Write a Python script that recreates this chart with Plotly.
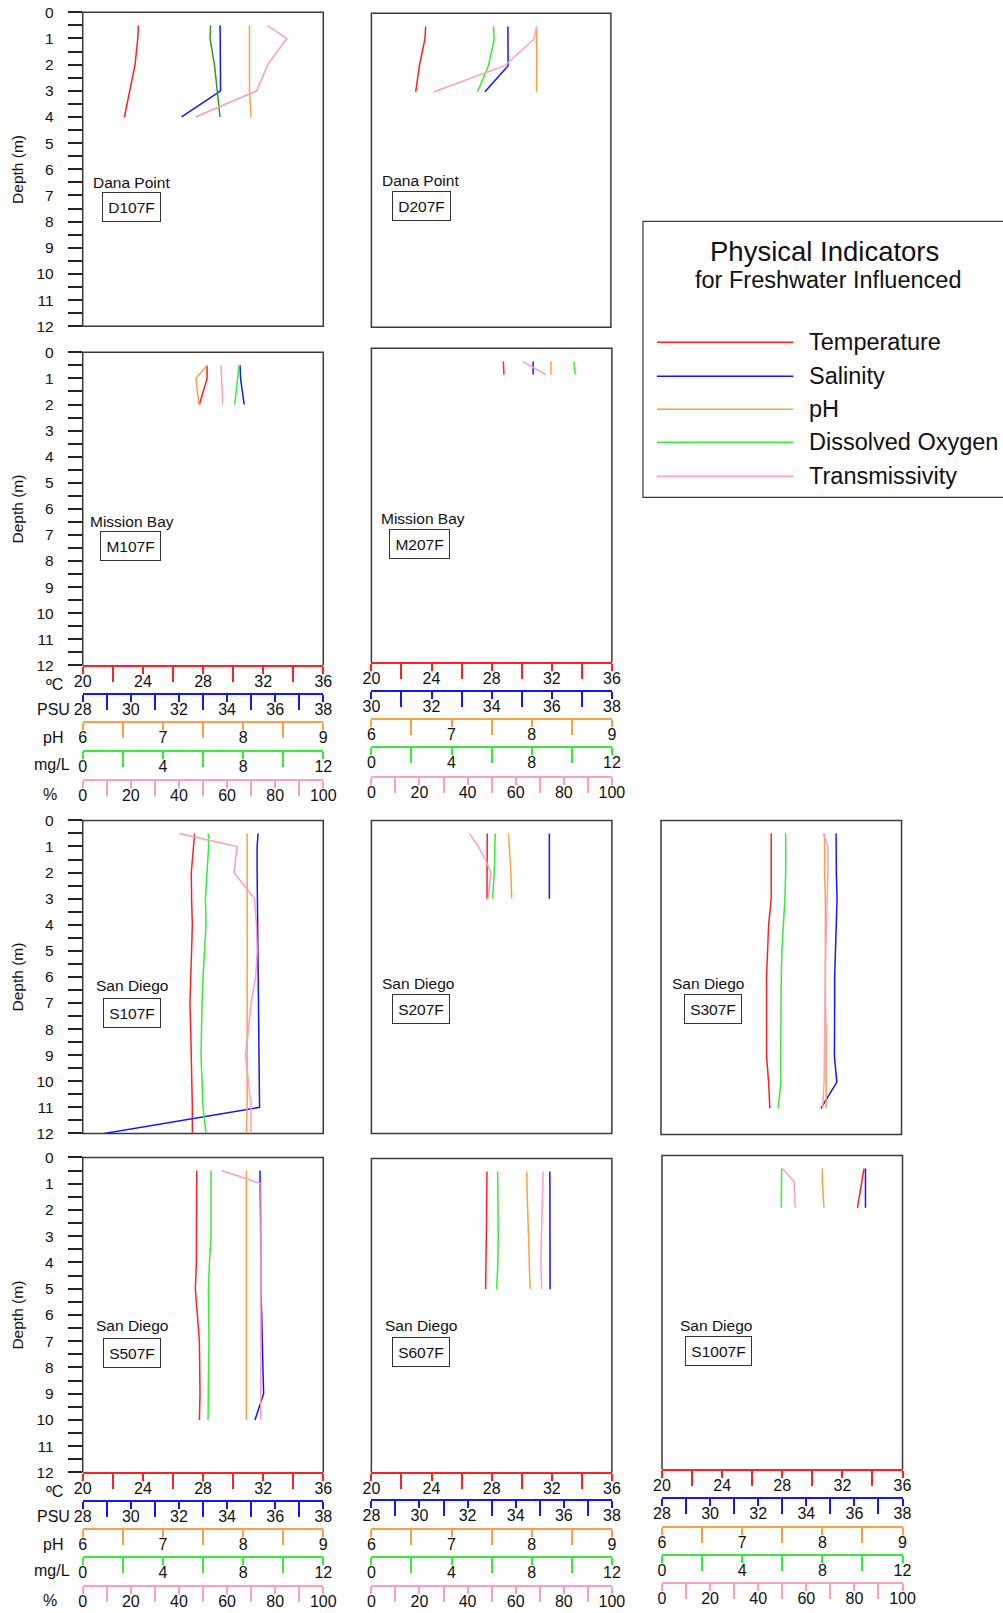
import plotly.graph_objects as go

# ---------------- DATA ----------------
STATIONS = ["D107F", "D207F", "M107F", "M207F", "S107F", "S207F", "S307F", "S507F", "S607F", "S1007F"]
SITES = ["Dana Point", "Dana Point", "Mission Bay", "Mission Bay", "San Diego", "San Diego",
         "San Diego", "San Diego", "San Diego", "San Diego"]

D107F_depth = [0.5, 1, 2, 3, 4]
D107F_temp = [23.70, 23.66, 23.48, 23.12, 22.77]
D107F_sal = [33.71, 33.72, 33.73, 33.73, 32.11]
D107F_ph = [8.08, 8.08, 8.08, 8.08, 8.10]
D107F_do = [6.38, 6.35, 6.57, 6.72, 6.85]
D107F_tr = [76.7, 84.8, 76.9, 72.3, 46.8]

D207F_depth = [0.5, 1, 2, 3]
D207F_temp = [23.63, 23.57, 23.21, 22.96]
D207F_sal = [33.70, 33.70, 33.71, 32.74]
D207F_ph = [8.07, 8.07, 8.07, 8.07]
D207F_do = [6.12, 6.15, 5.87, 5.32]
D207F_tr = [69.1, 67.7, 55.7, 26.2]

M107F_depth = [0.5, 1, 2]
M107F_temp = [28.27, 28.27, 27.76]
M107F_sal = [34.54, 34.56, 34.71]
M107F_ph = [7.55, 7.41, 7.45]
M107F_do = [7.80, 7.73, 7.58]
M107F_tr = [57.5, 57.7, 58.2]

M207F_depth = [0.5, 1]
M207F_temp = [28.78, 28.82]
M207F_sal = [35.38, 35.38]
M207F_ph = [8.24, 8.24]
M207F_do = [10.10, 10.17]
M207F_tr = [62.8, 72.4]

S107F_depth = [0.5, 1, 2, 3, 4, 5, 6, 7, 8, 9, 10, 11, 12]
S107F_temp = [27.44, 27.38, 27.22, 27.24, 27.29, 27.24, 27.16, 27.13, 27.18, 27.22, 27.27, 27.29, 27.29]
S107F_sal = [35.29, 35.25, 35.25, 35.26, 35.29, 35.29, 35.28, 35.29, 35.31, 35.32, 35.33, 35.35, 28.90]
S107F_ph = [8.05, 8.05, 8.05, 8.05, 8.05, 8.05, 8.05, 8.05, 8.05, 8.05, 8.05, 8.05, 8.04]
S107F_do = [6.27, 6.28, 6.20, 6.12, 6.15, 6.07, 6.00, 5.95, 5.93, 5.90, 5.95, 6.00, 6.15]
S107F_tr = [40.1, 64.2, 62.9, 71.4, 72.2, 72.5, 71.9, 70.0, 68.9, 67.6, 68.9, 70.0, 69.9]

S207F_depth = [0.5, 1, 1.5, 2, 3]
S207F_temp = [27.71, 27.71, 27.70, 27.70, 27.69]
S207F_sal = [35.40, 35.40, 35.40, 35.40, 35.40]
S207F_ph = [7.71, 7.72, 7.73, 7.74, 7.75]
S207F_do = [6.18, 6.17, 6.15, 6.13, 6.05]
S207F_tr = [40.7, 44.4, 47.4, 49.7, 48.6]

S307F_depth = [0.5, 1, 2, 3, 4, 5, 6, 7, 8, 9, 10, 11]
S307F_temp = [27.33, 27.33, 27.33, 27.33, 27.16, 27.07, 27.02, 27.02, 27.02, 27.02, 27.16, 27.24]
S307F_sal = [35.28, 35.28, 35.29, 35.32, 35.29, 35.24, 35.22, 35.22, 35.22, 35.21, 35.31, 34.65]
S307F_ph = [8.04, 8.04, 8.04, 8.05, 8.05, 8.05, 8.05, 8.05, 8.06, 8.06, 8.06, 8.06]
S307F_do = [6.22, 6.22, 6.22, 6.18, 6.10, 6.03, 6.00, 5.98, 5.97, 5.97, 5.98, 5.85]
S307F_tr = [67.5, 69.4, 69.4, 69.0, 68.6, 68.5, 68.3, 68.2, 68.1, 67.9, 67.8, 67.2]

S507F_depth = [0.5, 1, 2, 3, 4, 5, 6, 7, 8, 9, 10]
S507F_temp = [27.58, 27.58, 27.58, 27.58, 27.56, 27.49, 27.64, 27.76, 27.78, 27.80, 27.76]
S507F_sal = [35.37, 35.38, 35.38, 35.40, 35.40, 35.40, 35.44, 35.48, 35.49, 35.52, 35.16]
S507F_ph = [8.04, 8.04, 8.04, 8.04, 8.04, 8.04, 8.04, 8.04, 8.04, 8.04, 8.04]
S507F_do = [6.40, 6.40, 6.40, 6.40, 6.32, 6.27, 6.28, 6.30, 6.28, 6.27, 6.25]
S507F_tr = [57.8, 74.1, 74.1, 74.1, 74.0, 73.8, 74.0, 74.1, 74.1, 74.1, 74.0]

S607F_depth = [0.5, 1, 2, 3, 4, 5]
S607F_temp = [27.69, 27.69, 27.67, 27.65, 27.62, 27.60]
S607F_sal = [35.42, 35.42, 35.42, 35.43, 35.43, 35.43]
S607F_ph = [7.94, 7.94, 7.95, 7.96, 7.97, 7.98]
S607F_do = [6.30, 6.31, 6.32, 6.33, 6.31, 6.25]
S607F_tr = [71.4, 71.2, 71.0, 70.7, 70.5, 70.8]

S1007F_depth = [0.5, 1, 2]
S1007F_temp = [33.44, 33.29, 33.00]
S1007F_sal = [36.46, 36.46, 36.46]
S1007F_ph = [8.00, 8.00, 8.02]
S1007F_do = [5.97, 5.96, 5.95]
S1007F_tr = [50.0, 54.9, 55.4]

SERIES = ["Temperature", "Salinity", "pH", "Dissolved Oxygen", "Transmissivity"]
UNITS = ["ºC", "PSU", "pH", "mg/L", "%"]
DEPTH_TICKS = list(range(0, 13))

TEMP_RANGE = [20, 36]; TEMP_MAJOR = [20, 24, 28, 32, 36]; TEMP_MINOR = [22, 26, 30, 34]
SAL_RANGE = [28, 38]; SAL_MAJOR = [28, 30, 32, 34, 36, 38]; SAL_MINOR = [29, 31, 33, 35, 37]
SAL_RANGE_B = [30, 38]; SAL_MAJOR_B = [30, 32, 34, 36, 38]; SAL_MINOR_B = [31, 33, 35, 37]
PH_RANGE = [6, 9]; PH_MAJOR = [6, 7, 8, 9]; PH_MINOR = [6.5, 7.5, 8.5]
DO_RANGE = [0, 12]; DO_MAJOR = [0, 4, 8, 12]; DO_MINOR = [2, 6, 10]
TR_RANGE = [0, 100]; TR_MAJOR = [0, 20, 40, 60, 80, 100]; TR_MINOR = [10, 30, 50, 70, 90]

G = globals()
DATA = {s: dict(depth=G[s + "_depth"], vals=[G[s + "_temp"], G[s + "_sal"], G[s + "_ph"],
                                             G[s + "_do"], G[s + "_tr"]]) for s in STATIONS}

# ---------------- STYLE / LAYOUT ----------------
W, H = 1003, 1613
# measured mapping of paper fractions to picture pixels in this viewer
RX0, RW, RY0, RH = 9.4, 978.9, 8.7, 1595.8
FONT = "Arial, Liberation Sans, sans-serif"
COLORS = ["#ff2020", "#1515ff", "#ffa040", "#33ee33", "#ff9cc8"]
DARK_GREEN = "#2a9a2a"
FRAME = "#3a3a3a"


def fx(px):
    return (px - RX0) / RW


def fy(py):
    return 1 - (py - RY0) / RH


# station, x0, x1, top, bottom, depth axis?, scale lines (y px) or None, alt salinity, label xy, box xy, box w
PANELS = [
    ("D107F", 83, 323, 12, 326, True, None, False, (132, 182), (131.5, 206.5), 59),
    ("D207F", 371, 610, 13, 327, False, None, False, (420, 180), (421.5, 205.5), 59),
    ("M107F", 83, 323, 352, 665, True, [665, 694, 722, 751, 780], False, (132, 521), (130.5, 546), 61),
    ("M207F", 371, 611, 348, 662, False, [662, 691, 719, 747, 777], True, (423, 518), (419.5, 543.5), 61),
    ("S107F", 83, 323, 820, 1133, True, None, False, (132, 985), (132, 1012.5), 58),
    ("S207F", 371, 611, 820, 1133, False, None, False, (418, 983), (421, 1008.5), 58),
    ("S307F", 660, 900, 820, 1134, False, None, False, (707, 983), (711.5, 1008.5), 58),
    ("S507F", 83, 323, 1157, 1472, True, [1472, 1501, 1529, 1557, 1586], False, (132, 1325), (132, 1352.5), 58),
    ("S607F", 371, 611, 1158, 1472, False, [1472, 1500, 1529, 1557, 1586], False, (421, 1325), (421, 1352), 58),
    ("S1007F", 661, 901, 1155, 1469, False, [1469, 1498, 1527, 1555, 1583], False, (715, 1325), (717.5, 1350.5), 67),
]
UNIT_X = [55, 54, 53, 52, 50]
UNIT_DY = [19, 15, 15, 13, 14]


def ann(text, x, y, size, **kw):
    d = dict(text=text, x=fx(x), y=fy(y), xref="paper", yref="paper", showarrow=False,
             xanchor="center", yanchor="middle", font=dict(family=FONT, size=size, color="#111"))
    d.update(kw)
    return d


fig = go.Figure()
layout = {}
shapes = []
annotations = []

for i, (st, x0, x1, top, bot, depth_axis, scale_y, alt_sal, lab, box, bw) in enumerate(PANELS):
    yid = i + 1
    ykey = "yaxis" if yid == 1 else f"yaxis{yid}"
    yref = "y" if yid == 1 else f"y{yid}"
    ydom = [fy(bot), fy(top)]
    yax = dict(domain=ydom, range=[12, 0], fixedrange=True, showgrid=False, zeroline=False,
               showline=False, anchor=f"x{i*5+1}" if i > 0 else "x")
    if depth_axis:
        yax.update(tickmode="array", tickvals=DEPTH_TICKS, ticks="outside", ticklen=14,
                   tickwidth=1.5, tickcolor="#222", ticklabelstandoff=11,
                   tickfont=dict(family=FONT, size=15.5, color="#111"),
                   minor=dict(tickvals=[d + 0.5 for d in DEPTH_TICKS[:-1]], ticks="outside",
                              ticklen=14, tickwidth=1.5, tickcolor="#222"))
        annotations.append(ann("Depth (m)", 18, (top + bot) / 2, 15.5, textangle=-90))
    else:
        yax.update(showticklabels=False, ticks="")
    layout[ykey] = yax

    specs = [
        (TEMP_RANGE, TEMP_MAJOR, TEMP_MINOR),
        (SAL_RANGE_B, SAL_MAJOR_B, SAL_MINOR_B) if alt_sal else (SAL_RANGE, SAL_MAJOR, SAL_MINOR),
        (PH_RANGE, PH_MAJOR, PH_MINOR),
        (DO_RANGE, DO_MAJOR, DO_MINOR),
        (TR_RANGE, TR_MAJOR, TR_MINOR),
    ]
    base = i * 5 + 1
    base_ref = "x" if base == 1 else f"x{base}"
    d = DATA[st]
    for k in range(5):
        n = base + k
        xkey = "xaxis" if n == 1 else f"xaxis{n}"
        xref = "x" if n == 1 else f"x{n}"
        rng, major, minor = specs[k]
        ax = dict(domain=[fx(x0), fx(x1)], range=rng, fixedrange=True, showgrid=False, zeroline=False)
        if k > 0:
            ax["overlaying"] = base_ref
        if scale_y is not None:
            ax.update(visible=True, showline=True, linecolor=COLORS[k], linewidth=1.5,
                      tickmode="array", tickvals=major, ticks="outside", ticklen=7,
                      tickwidth=1.5, tickcolor=COLORS[k], ticklabelstandoff=-6,
                      tickfont=dict(family=FONT, size=16, color="#111"),
                      minor=dict(tickvals=minor, ticks="outside", ticklen=15, tickwidth=1.5,
                                 tickcolor=COLORS[k]))
            if k == 0:
                ax["anchor"] = yref
            else:
                ax["anchor"] = "free"
                ax["position"] = fy(scale_y[k])
            if depth_axis:
                annotations.append(ann(UNITS[k], UNIT_X[k], scale_y[k] + UNIT_DY[k], 16))
        else:
            ax.update(visible=False, anchor=yref)
        layout[xkey] = ax

        color = DARK_GREEN if (st == "D107F" and k == 3) else COLORS[k]
        fig.add_trace(go.Scatter(x=d["vals"][k], y=d["depth"], mode="lines",
                                 line=dict(color=color, width=1.5),
                                 xaxis=xref, yaxis=yref, showlegend=False,
                                 name=SERIES[k], hoverinfo="skip"))

    if scale_y is None:
        shapes.append(dict(type="rect", xref="paper", yref="paper", x0=fx(x0), x1=fx(x1),
                           y0=fy(bot), y1=fy(top), line=dict(color=FRAME, width=1.5),
                           fillcolor="rgba(0,0,0,0)", layer="below"))
    else:
        path = (f"M {fx(x0)} {fy(bot)} L {fx(x0)} {fy(top)} L {fx(x1)} {fy(top)} "
                f"L {fx(x1)} {fy(bot)}")
        shapes.append(dict(type="path", xref="paper", yref="paper", path=path,
                           line=dict(color=FRAME, width=1.5), layer="below"))
    annotations.append(ann(SITES[STATIONS.index(st)], lab[0], lab[1], 15.5))
    annotations.append(ann(st, box[0], box[1], 15.5, width=bw - 4, height=26, borderpad=1,
                           bordercolor="#333", borderwidth=1))

# legend box (drawn by hand)
shapes.append(dict(type="rect", xref="paper", yref="paper", x0=fx(642), x1=fx(1002),
                   y0=fy(497), y1=fy(221), line=dict(color=FRAME, width=1.2),
                   fillcolor="rgba(0,0,0,0)"))
annotations.append(ann("Physical Indicators", 823, 251, 27.5))
annotations.append(ann("for Freshwater Influenced", 827, 280, 23.5))
LEG_Y = [342, 376, 409, 442, 476]
for k in range(5):
    shapes.append(dict(type="line", xref="paper", yref="paper", x0=fx(656), x1=fx(792),
                       y0=fy(LEG_Y[k]), y1=fy(LEG_Y[k]), line=dict(color=COLORS[k], width=1.5)))
    annotations.append(ann(SERIES[k], 806, LEG_Y[k], 23.5, xanchor="left"))

fig.update_layout(width=W, height=H, autosize=False,
                  margin=dict(l=0, r=0, t=0, b=0, pad=0),
                  paper_bgcolor="white", plot_bgcolor="rgba(0,0,0,0)",
                  showlegend=False, shapes=shapes, annotations=annotations,
                  font=dict(family=FONT, color="#111"), **layout)

fig.write_html("out.html", config={"displayModeBar": False},
               post_script="document.body.style.margin='0';")
